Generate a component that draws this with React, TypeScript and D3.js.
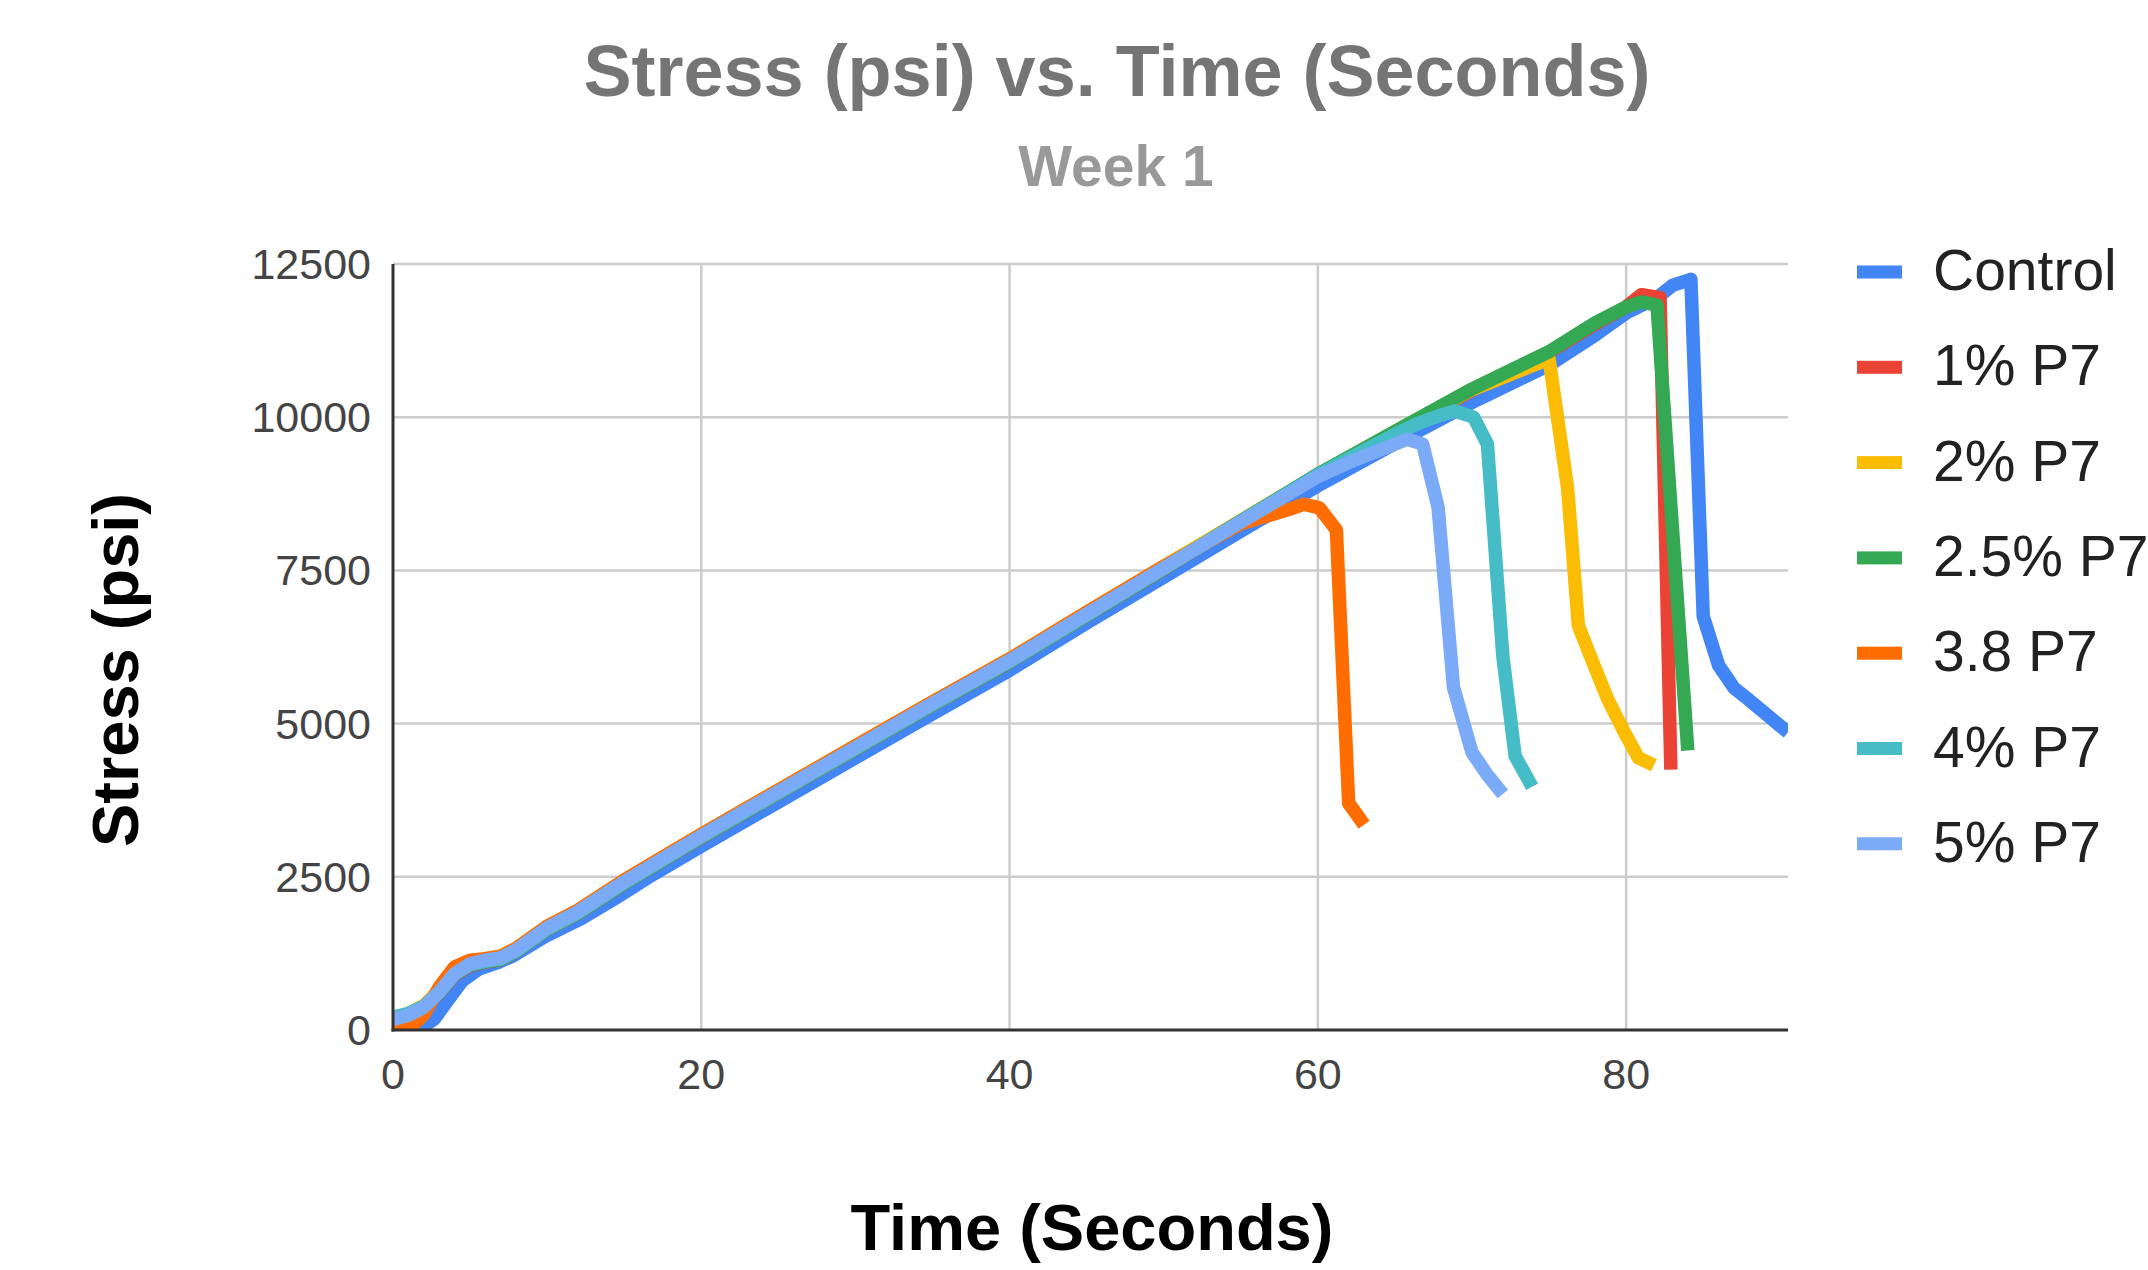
import React from 'react';
import * as d3 from 'd3';

type Pt = [number, number];

const xTicks = [0, 20, 40, 60, 80];
const yTicks = [0, 2500, 5000, 7500, 10000, 12500];
const xMax = 90.5;
const yMax = 12500;

const seriesNames = ['Control', '1% P7', '2% P7', '2.5% P7', '3.8 P7', '4% P7', '5% P7'];
const seriesColors = ['#4285F4', '#EA4335', '#FBBC04', '#34A853', '#FF6D01', '#46BDC6', '#7BAAF7'];

const control: Pt[] = [
  [0, 0], [1, 0], [2, 60], [2.7, 185], [3.4, 430], [4.5, 805], [5.6, 1000], [6.7, 1090], [7.8, 1210],
  [8.9, 1380], [10, 1545], [12.2, 1815], [14.3, 2130], [16.5, 2480], [18.6, 2790], [20, 3000], [25, 3720],
  [30, 4440], [35, 5160], [40, 5870], [45, 6640], [50, 7390], [55, 8140], [60, 8880], [65, 9570],
  [70, 10240], [75, 10850], [78, 11340], [80, 11700], [82, 11950], [83, 12150], [84.2, 12250], [85, 6750],
  [86, 5950], [87, 5580], [88, 5380], [89, 5170], [90, 4960], [90.5, 4860],
];

const p1: Pt[] = [
  [0, 190], [1, 250], [2, 370], [3, 600], [4, 900], [5, 1050], [6, 1110], [7, 1150], [8, 1280], [9, 1460],
  [10, 1640], [12, 1900], [15, 2390], [20, 3140], [25, 3860], [30, 4580], [35, 5300], [40, 6000],
  [45, 6760], [50, 7520], [55, 8300], [60, 9070], [65, 9740], [70, 10440], [75, 11060], [78, 11520],
  [80, 11800], [81, 12000], [82.2, 11950], [82.9, 4250],
];

const p2: Pt[] = [
  [0, 200], [1, 270], [2, 400], [3, 650], [4, 950], [5, 1110], [6, 1165], [7, 1205], [8, 1335], [9, 1515],
  [10, 1695], [12, 1955], [15, 2445], [20, 3195], [25, 3915], [30, 4635], [35, 5355], [40, 6055],
  [45, 6815], [50, 7565], [55, 8315], [60, 9060], [65, 9760], [70, 10450], [75, 10950], [76.2, 8850],
  [76.9, 6600], [77.6, 6150], [78.8, 5400], [79.9, 4850], [80.8, 4440], [81.8, 4320],
];

const p25: Pt[] = [
  [0, 200], [1, 260], [2, 380], [3, 610], [4, 910], [5, 1060], [6, 1115], [7, 1155], [8, 1285], [9, 1465],
  [10, 1645], [12, 1905], [15, 2395], [20, 3145], [25, 3865], [30, 4585], [35, 5305], [40, 6005],
  [45, 6765], [50, 7525], [55, 8305], [60, 9070], [65, 9770], [70, 10460], [75, 11070], [78, 11540],
  [80, 11800], [81, 11880], [82, 11830], [84, 4560],
];

const p38: Pt[] = [
  [0, 0], [1, 20], [2, 250], [3, 700], [4, 1030], [5, 1140], [6, 1165], [7, 1205], [8, 1335], [9, 1515],
  [10, 1695], [12, 1955], [15, 2445], [20, 3195], [25, 3915], [30, 4635], [35, 5355], [40, 6055],
  [45, 6815], [50, 7565], [55, 8260], [58.2, 8500], [59.1, 8580], [60.1, 8520], [61.2, 8160],
  [62, 3700], [63, 3350],
];

const p4: Pt[] = [
  [0, 210], [1, 270], [2, 385], [3, 615], [4, 915], [5, 1065], [6, 1120], [7, 1160], [8, 1290], [9, 1470],
  [10, 1650], [12, 1910], [15, 2400], [20, 3150], [25, 3870], [30, 4590], [35, 5310], [40, 6010],
  [45, 6770], [50, 7530], [55, 8300], [60, 9060], [65, 9720], [66.5, 9900], [67.8, 10020], [68.9, 10100],
  [70.1, 10000], [71, 9560], [72, 6100], [72.8, 4470], [73.9, 3970],
];

const p5: Pt[] = [
  [0, 170], [1, 240], [2, 370], [3, 620], [4, 920], [5, 1080], [6, 1140], [7, 1180], [8, 1310], [9, 1490],
  [10, 1670], [12, 1930], [15, 2420], [20, 3170], [25, 3890], [30, 4610], [35, 5330], [40, 6030],
  [45, 6790], [50, 7540], [55, 8290], [60, 9030], [62, 9260], [64, 9460], [65.8, 9640], [66.8, 9560],
  [67.8, 8530], [68.8, 5590], [70, 4530], [71, 4160], [72, 3850],
];

const seriesData: Pt[][] = [control, p1, p2, p25, p38, p4, p5];

const FONT = '"Liberation Sans", Arial, Helvetica, sans-serif';

export default function App() {
  const W = 2148;
  const H = 1270;
  const left = 393, right = 1788, top = 264, bottom = 1030;
  const x = d3.scaleLinear().domain([0, xMax]).range([left, right]);
  const y = d3.scaleLinear().domain([0, yMax]).range([bottom, top]);
  const line = d3.line<Pt>().x((d) => x(d[0])).y((d) => y(d[1]));

  const legendX = 1857;
  const legendY0 = 272;
  const legendStep = 95.3;

  return (
    <svg width={W} height={H} style={{ position: 'absolute', left: 0, top: 0, display: 'block', background: '#fff' }}
      fontFamily={FONT}>
      <defs>
        <clipPath id="plotClip">
          <rect x={left} y={top - 20} width={right - left} height={bottom - top + 20} />
        </clipPath>
      </defs>
      <rect x={0} y={0} width={W} height={H} fill="#fff" />

      {/* Title */}
      <text x={1117} y={96} textAnchor="middle" fontSize={72} fontWeight="bold" fill="#757575">
        Stress (psi) vs. Time (Seconds)
      </text>
      <text x={1116} y={186} textAnchor="middle" fontSize={57} fontWeight="bold" fill="#999999">
        Week 1
      </text>

      {/* Gridlines */}
      {yTicks.filter((t) => t !== 0).map((t) => (
        <line key={'gy' + t} x1={left} x2={right} y1={y(t)} y2={y(t)} stroke="#cccccc" strokeWidth={2.5} />
      ))}
      {xTicks.filter((t) => t !== 0).map((t) => (
        <line key={'gx' + t} x1={x(t)} x2={x(t)} y1={top} y2={bottom} stroke="#cccccc" strokeWidth={2.5} />
      ))}

      {/* Series */}
      <g clipPath="url(#plotClip)">
        {seriesData.map((d, i) => (
          <path key={seriesNames[i]} d={line(d) || ''} fill="none" stroke={seriesColors[i]} strokeWidth={13.5}
            strokeLinejoin="round" strokeLinecap="butt" />
        ))}
      </g>

      {/* Axes */}
      <line x1={left} x2={left} y1={top} y2={bottom + 1.5} stroke="#333333" strokeWidth={3} />
      <line x1={left - 1.5} x2={right} y1={bottom} y2={bottom} stroke="#333333" strokeWidth={3} />

      {/* Tick labels */}
      {yTicks.map((t) => (
        <text key={'ty' + t} x={371} y={y(t) + 15} textAnchor="end" fontSize={43} fill="#444444">
          {t}
        </text>
      ))}
      {xTicks.map((t) => (
        <text key={'tx' + t} x={x(t)} y={1089} textAnchor="middle" fontSize={43} fill="#444444">
          {t}
        </text>
      ))}

      {/* Axis titles */}
      <text x={1092} y={1250} textAnchor="middle" fontSize={65} fontWeight="bold" fill="#000">
        Time (Seconds)
      </text>
      <text transform={`translate(138, 670) rotate(-90)`} textAnchor="middle" fontSize={65} fontWeight="bold" fill="#000">
        Stress (psi)
      </text>

      {/* Legend */}
      {seriesNames.map((n, i) => (
        <g key={'lg' + n}>
          <rect x={legendX} y={legendY0 + i * legendStep - 6.5} width={45} height={13} fill={seriesColors[i]} />
          <text x={1933} y={legendY0 + i * legendStep + 18} fontSize={57} fill="#222222">
            {n}
          </text>
        </g>
      ))}
    </svg>
  );
}
